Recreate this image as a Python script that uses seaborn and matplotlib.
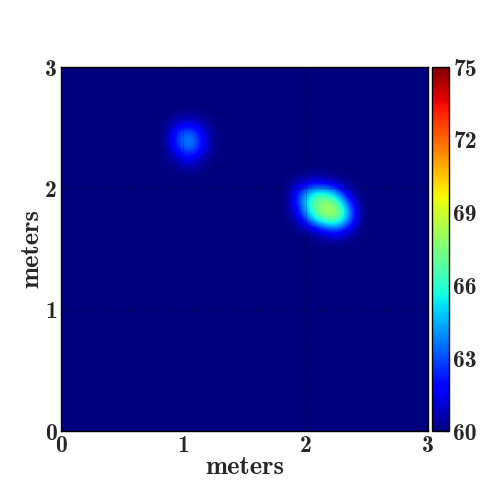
import os
import numpy as np
import seaborn as sns
import matplotlib
matplotlib.use("Agg")
import matplotlib.pyplot as plt
from matplotlib.font_manager import FontProperties

# grid of 0.1 m cells over a 3 m x 3 m floor, background level 60
n_cells = 30
background = 60.0

# small patches around the two warm spots (rows = y ascending, cols = x ascending)
spot1_col0, spot1_row0 = 9, 21   # x from 0.95, y from 2.15
spot1 = [
    [60.0, 60.3, 60.0],
    [60.8, 62.0, 60.6],
    [62.6, 64.4, 62.2],
    [62.8, 64.2, 61.8],
    [60.6, 61.0, 60.4],
]
spot2_col0, spot2_row0 = 19, 16  # x from 1.95, y from 1.65
spot2 = [
    [60.0, 60.3, 61.5, 62.5, 61.0],
    [61.0, 65.0, 67.5, 68.0, 64.5],
    [62.8, 67.0, 68.6, 68.4, 64.0],
    [63.0, 66.0, 66.8, 65.0, 61.0],
    [60.5, 61.2, 61.0, 60.3, 60.0],
]

ticks = [0, 1, 2, 3]
cbar_ticks = [60, 63, 66, 69, 72, 75]

field = np.full((n_cells, n_cells), background)
for col0, row0, patch in [(spot1_col0, spot1_row0, spot1), (spot2_col0, spot2_row0, spot2)]:
    p = np.array(patch)
    field[row0:row0 + p.shape[0], col0:col0 + p.shape[1]] = p

sns.set_style("white")

# bold computer modern shipped with matplotlib
cmb = os.path.join(matplotlib.get_data_path(), "fonts", "ttf", "cmb10.ttf")
fp = FontProperties(fname=cmb, size=17)
fp_lab = FontProperties(fname=cmb, size=19)

fig = plt.figure(figsize=(5, 5), dpi=100)
ax = fig.add_axes([0.122, 0.138, 0.734, 0.728])
cax = fig.add_axes([0.864, 0.138, 0.034, 0.728])

im = ax.imshow(field, origin="lower", extent=[0, 3, 0, 3], cmap="jet",
               vmin=60, vmax=75, interpolation="bicubic", aspect="auto")
ax.set_xticks(ticks)
ax.set_yticks(ticks)
ax.set_xticklabels([str(t) for t in ticks], fontproperties=fp)
ax.set_yticklabels([str(t) for t in ticks], fontproperties=fp)
ax.tick_params(length=0, pad=3)
ax.grid(True, color="k", linestyle=":", linewidth=0.6, alpha=0.6)
ax.set_xlabel("meters", fontproperties=fp_lab, labelpad=-1)
ax.set_ylabel("meters", fontproperties=fp_lab, labelpad=1)
for s in ax.spines.values():
    s.set_visible(True)
    s.set_color("k")
    s.set_linewidth(1)

cb = fig.colorbar(im, cax=cax, ticks=cbar_ticks)
cb.ax.set_yticklabels([str(t) for t in cbar_ticks], fontproperties=fp)
cb.ax.tick_params(direction="in", length=4, width=0.8, color="k", pad=3)
cb.outline.set_edgecolor("k")
cb.outline.set_linewidth(1)

plt.savefig("out.png", dpi=100)
